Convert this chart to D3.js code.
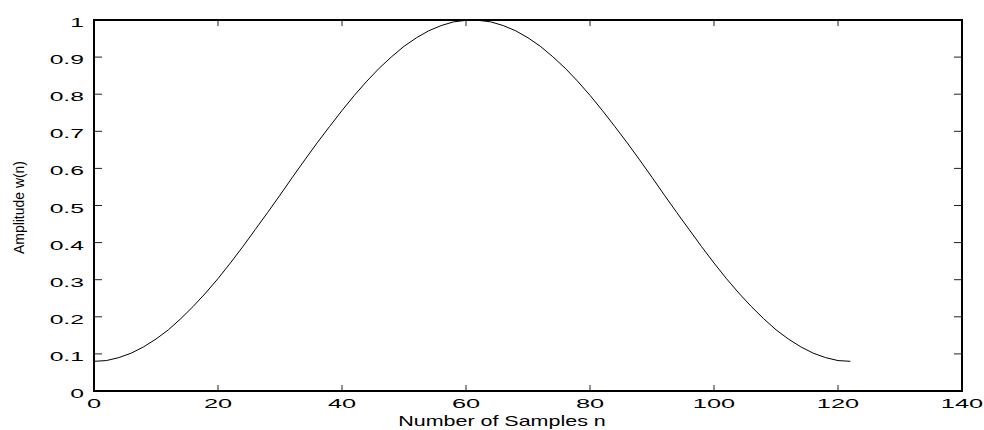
<!DOCTYPE html>
<html lang="en">
<head>
<meta charset="UTF-8">
<title>Hamming window</title>
<script src="https://d3js.org/d3.v7.min.js"></script>
<style>
    body { margin: 0; background: #fff; }
    svg text { font-family: "Liberation Sans", Arial, sans-serif; fill: #000; }
</style>
</head>
<body>
<svg width="984" height="430"></svg>
<script>
    // samples
    const samples = [0, 2, 4, 6, 8, 10, 12, 14, 16, 18, 20, 22, 24, 26, 28, 30, 32, 34, 36, 38,
        40, 42, 44, 46, 48, 50, 52, 54, 56, 58, 60, 61, 62, 64, 66, 68, 70, 72, 74, 76, 78,
        80, 82, 84, 86, 88, 90, 92, 94, 96, 98, 100, 102, 104, 106, 108, 110, 112, 114, 116,
        118, 120, 122];
    const amplitude = [0.080, 0.082, 0.090, 0.102, 0.119, 0.140, 0.165, 0.195, 0.228, 0.264,
        0.303, 0.345, 0.389, 0.435, 0.481, 0.528, 0.576, 0.623, 0.669, 0.713,
        0.756, 0.797, 0.835, 0.870, 0.901, 0.929, 0.952, 0.971, 0.985, 0.995, 0.999, 1.000,
        0.999, 0.995, 0.985, 0.971, 0.952, 0.929, 0.901, 0.870, 0.835, 0.797, 0.756, 0.713,
        0.669, 0.623, 0.576, 0.528, 0.481, 0.435, 0.389, 0.345, 0.303, 0.264, 0.228, 0.195,
        0.165, 0.140, 0.119, 0.102, 0.090, 0.082, 0.080];
    const xTicks = [0, 20, 40, 60, 80, 100, 120, 140];
    const yTicks = [0, 0.1, 0.2, 0.3, 0.4, 0.5, 0.6, 0.7, 0.8, 0.9, 1];

    const width = 984, height = 430;
    const margin = {top: 20, right: 22, bottom: 39, left: 94};
    const svg = d3.select("svg");

    const x = d3.scaleLinear().domain([0, 140]).range([margin.left, width - margin.right]);
    const y = d3.scaleLinear().domain([0, 1]).range([height - margin.bottom, margin.top]);

    // stretch glyphs horizontally like the original export
    function stretch(sel, k) {
        sel.each(function () {
            const w = this.getComputedTextLength();
            d3.select(this).attr("textLength", w * k).attr("lengthAdjust", "spacingAndGlyphs");
        });
    }

    // inward ticks on all four sides
    const tick = svg.append("g").attr("stroke", "#222").attr("stroke-width", 1);
    xTicks.forEach(t => {
        tick.append("line").attr("x1", x(t)).attr("x2", x(t))
            .attr("y1", y(0)).attr("y2", y(0) - 6);
        tick.append("line").attr("x1", x(t)).attr("x2", x(t))
            .attr("y1", y(1)).attr("y2", y(1) + 6);
    });
    yTicks.forEach(t => {
        tick.append("line").attr("x1", x(0)).attr("x2", x(0) + 8)
            .attr("y1", y(t)).attr("y2", y(t));
        tick.append("line").attr("x1", x(140)).attr("x2", x(140) - 8)
            .attr("y1", y(t)).attr("y2", y(t));
    });

    // frame
    svg.append("rect")
        .attr("x", x(0)).attr("y", y(1))
        .attr("width", x(140) - x(0)).attr("height", y(0) - y(1))
        .attr("fill", "none").attr("stroke", "#000").attr("stroke-width", 2);

    // tick labels
    svg.append("g").selectAll("text").data(xTicks).join("text")
        .attr("x", d => x(d)).attr("y", y(0) + 17)
        .attr("text-anchor", "middle").attr("font-size", 13)
        .text(d => d)
        .call(stretch, 1.95);

    svg.append("g").selectAll("text").data(yTicks).join("text")
        .attr("x", x(0) - 10).attr("y", d => y(d) + 7)
        .attr("text-anchor", "end").attr("font-size", 13)
        .text(d => d)
        .call(stretch, 1.9);

    // axis titles
    svg.append("text")
        .attr("x", (x(0) + x(140)) / 2 - 26).attr("y", height - 4)
        .attr("text-anchor", "middle").attr("font-size", 14.5)
        .text("Number of Samples n")
        .call(stretch, 1.48);

    svg.append("text")
        .attr("transform", `translate(24, ${y(0.5) + 2}) rotate(-90)`)
        .attr("text-anchor", "middle").attr("font-size", 15)
        .text("Amplitude w(n)")
        .call(stretch, 0.93);

    // window curve
    const line = d3.line()
        .x((d, i) => x(samples[i]))
        .y(d => y(d));

    svg.append("path")
        .datum(amplitude)
        .attr("fill", "none")
        .attr("stroke", "#000")
        .attr("stroke-width", 1)
        .attr("d", line);
</script>
</body>
</html>
